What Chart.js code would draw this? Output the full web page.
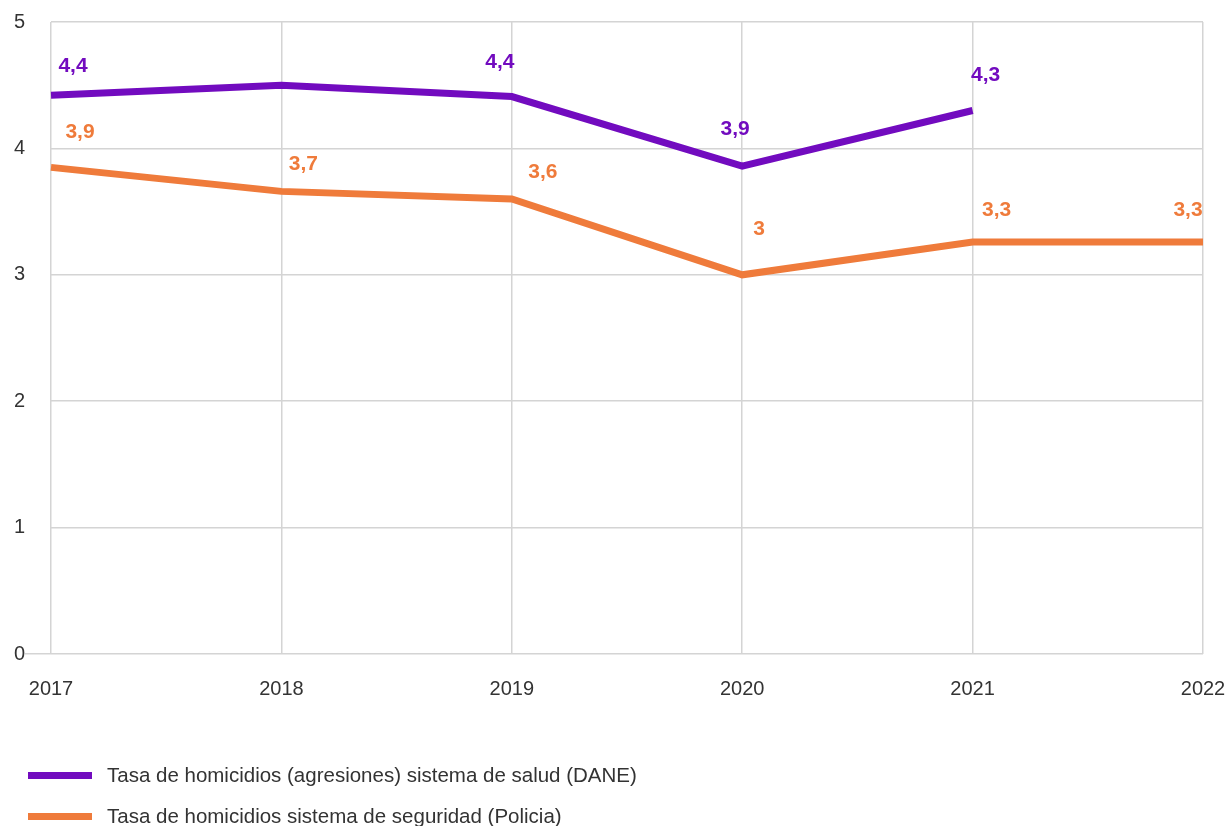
<!DOCTYPE html>
<html><head><meta charset="utf-8">
<script src="https://cdn.jsdelivr.net/npm/chart.js@4.4.1/dist/chart.umd.min.js"></script>
<style>
html,body{margin:0;padding:0;background:#fff;}
#wrap{position:relative;width:1230px;height:826px;overflow:hidden;}
canvas{position:absolute;left:0;top:0;}
.item{position:absolute;left:28px;white-space:nowrap;display:flex;align-items:center;height:24px;font-family:"Liberation Sans",Arial,sans-serif;font-size:20.5px;color:#333;}
.sw{width:64px;height:7px;margin-right:15px;}
</style></head>
<body><div id="wrap"><canvas id="c" width="1230" height="826"></canvas><div id="legend"></div></div>
<script>
const years = ['2017', '2018', '2019', '2020', '2021', '2022'];
const saludValues = [4.42, 4.5, 4.41, 3.86, 4.3, null];
const seguridadValues = [3.85, 3.66, 3.6, 3.0, 3.26, 3.26];
const saludLabels = ['4,4', '', '4,4', '3,9', '4,3', ''];
const seguridadLabels = ['3,9', '3,7', '3,6', '3', '3,3', '3,3'];
const yMin = 0, yMax = 5, yStep = 1;
const seriesNames = ['Tasa de homicidios (agresiones) sistema de salud (DANE)', 'Tasa de homicidios sistema de seguridad (Policia)'];
const seriesColors = ['#720bbf', '#ef7b3b'];

const FONT = '"Liberation Sans", Arial, sans-serif';
const GRID = '#d4d4d4';

const labelOffsets = [
  [[22, -29], [0, -30], [-12, -34], [-7, -37], [13, -35], [0, -30]],
  [[29, -35], [22, -27], [31, -27], [17, -46], [24, -32], [-15, -32]]
];

const labelPlugin = {
  id: 'pointLabels',
  afterDatasetsDraw(chart, args, opts) {
    const ctx = chart.ctx;
    chart.data.datasets.forEach((ds, i) => {
      const meta = chart.getDatasetMeta(i);
      meta.data.forEach((pt, j) => {
        const txt = ds.pointLabels[j];
        if (!txt || !isFinite(pt.y)) return;
        const o = opts.offsets[i][j];
        ctx.save();
        ctx.font = 'bold 21px ' + FONT;
        ctx.fillStyle = ds.borderColor;
        ctx.textAlign = 'center';
        ctx.textBaseline = 'middle';
        ctx.fillText(txt, pt.x + o[0], pt.y + o[1]);
        ctx.restore();
      });
    });
  }
};

new Chart(document.getElementById('c'), {
  type: 'line',
  data: {
    labels: years,
    datasets: [
      { label: seriesNames[0], data: saludValues, borderColor: seriesColors[0], backgroundColor: seriesColors[0], pointLabels: saludLabels },
      { label: seriesNames[1], data: seguridadValues, borderColor: seriesColors[1], backgroundColor: seriesColors[1], pointLabels: seguridadLabels }
    ]
  },
  options: {
    responsive: false,
    animation: false,
    devicePixelRatio: 1,
    layout: { padding: { top: 22, right: 27, left: 0, bottom: 0 } },
    elements: {
      point: { radius: 0, hoverRadius: 0 },
      line: { borderWidth: 7, tension: 0, borderCapStyle: 'butt', borderJoinStyle: 'miter', fill: false }
    },
    plugins: {
      legend: { display: false },
      tooltip: { enabled: false },
      pointLabels: { offsets: labelOffsets }
    },
    scales: {
      x: {
        offset: false,
        grid: { color: GRID, lineWidth: 1.5, drawTicks: false },
        border: { display: false },
        ticks: { font: { size: 20, family: FONT }, color: '#333', padding: 23, maxRotation: 0, autoSkip: false },
        afterFit(s) { s.height = 172; s.paddingRight = 0; s.paddingLeft = 0; }
      },
      y: {
        min: yMin, max: yMax,
        ticks: { stepSize: yStep, font: { size: 20, family: FONT }, color: '#333', padding: 0 },
        grid: { color: GRID, lineWidth: 1.5, tickLength: 26, tickColor: c => (c.tick && c.tick.value === 0) ? GRID : 'rgba(0,0,0,0)' },
        border: { display: false },
        afterFit(s) { s.width = 51; s.paddingTop = 0; s.paddingBottom = 0; }
      }
    }
  },
  plugins: [labelPlugin]
});

const legend = document.getElementById('legend');
const legendTops = [763, 804];
seriesNames.forEach((n, i) => {
  const d = document.createElement('div');
  d.className = 'item';
  d.style.top = legendTops[i] + 'px';
  d.innerHTML = '<span class="sw" style="background:' + seriesColors[i] + '"></span><span></span>';
  d.lastChild.textContent = n;
  legend.appendChild(d);
});
</script>
</body></html>
